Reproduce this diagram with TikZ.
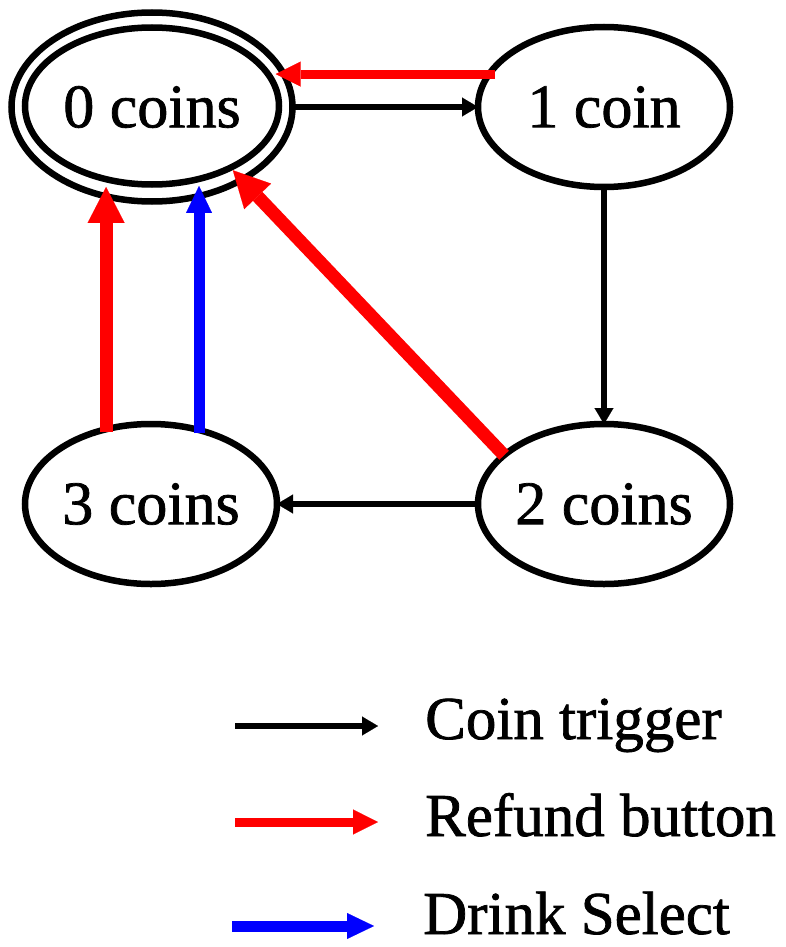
\documentclass[tikz,border=0pt]{standalone}
\usepackage{fontspec}
\setmainfont{Liberation Serif}[FakeBold=1.2]
\usetikzlibrary{arrows.meta,shapes.geometric}
\begin{document}
\begin{tikzpicture}[x=1pt,y=-1pt,
  state/.style={ellipse,draw=black,line width=6.5pt,inner sep=0pt,outer sep=0pt,
    minimum width=252pt,minimum height=160pt,font=\fontsize{62}{70}\selectfont},
  coinarrow/.style={draw=black,line width=6pt,-{Triangle[length=16pt,width=19pt,line width=0.1pt]}},
  refundthin/.style={draw=red,line width=9pt,-{Triangle[length=25pt,width=25pt,line width=0.1pt]}},
  refundthick/.style={draw=red,line width=13pt,-{Triangle[length=36pt,width=37pt,line width=0.1pt]}},
  drinkarrow/.style={draw=blue,line width=11pt,-{Triangle[length=27pt,width=26pt,line width=0.1pt]}},
  legendtext/.style={anchor=base west,inner sep=0pt,font=\fontsize{61}{70}\selectfont}
]
\useasboundingbox (0,0) rectangle (785,947);

% states
\node[state,minimum width=281pt,minimum height=189pt] (n0) at (152,107) {0 coins};
\node[ellipse,draw=black,line width=6.5pt,inner sep=0pt,outer sep=0pt,
  minimum width=254pt,minimum height=157pt] (n0in) at (152,106) {};
\node[state] (n1) at (604,107) {1 coin};
\node[state] (n2) at (604,504) {2 coins};
\node[state] (n3) at (151,504) {3 coins};

% coin trigger transitions
\draw[coinarrow] (n0.east) -- (n0.east -| n1.west);
\draw[coinarrow] (n1.south) -- (n2.north);
\draw[coinarrow] (n2.west) -- (n2.west -| n3.east);

% refund transitions
\draw[refundthin,shorten <=-6pt,shorten >=-8pt] (n1.164) -- (n1.164 -| n0.14);
\draw[refundthick,shorten >=-13pt] (n2.154) -- (n0.-39);
\draw[refundthick,shorten <=-3pt,shorten >=-9pt] (n3.121.7) -- (n3.121.7 |- n0.242.2);

% drink select
\draw[drinkarrow,shorten <=-3pt,shorten >=-10pt] (n3.57.3) -- (n3.57.3 |- n0.-62.5);

% legend
\coordinate (l1a) at (235,726);
\coordinate (l1b) at (378,726);
\coordinate (l2a) at (235,822);
\coordinate (l2b) at (378,822);
\coordinate (l3a) at (232,926);
\coordinate (l3b) at (374,926);
\draw[coinarrow] (l1a) -- (l1b);
\draw[refundthin] (l2a) -- (l2b);
\draw[drinkarrow] (l3a) -- (l3b);
\node[legendtext] (t1) at (425,739) {Coin trigger};
\node[legendtext] (t2) at (425,836) {Refund button};
\node[legendtext] (t3) at (423,934) {Drink Select};
\end{tikzpicture}
\end{document}
